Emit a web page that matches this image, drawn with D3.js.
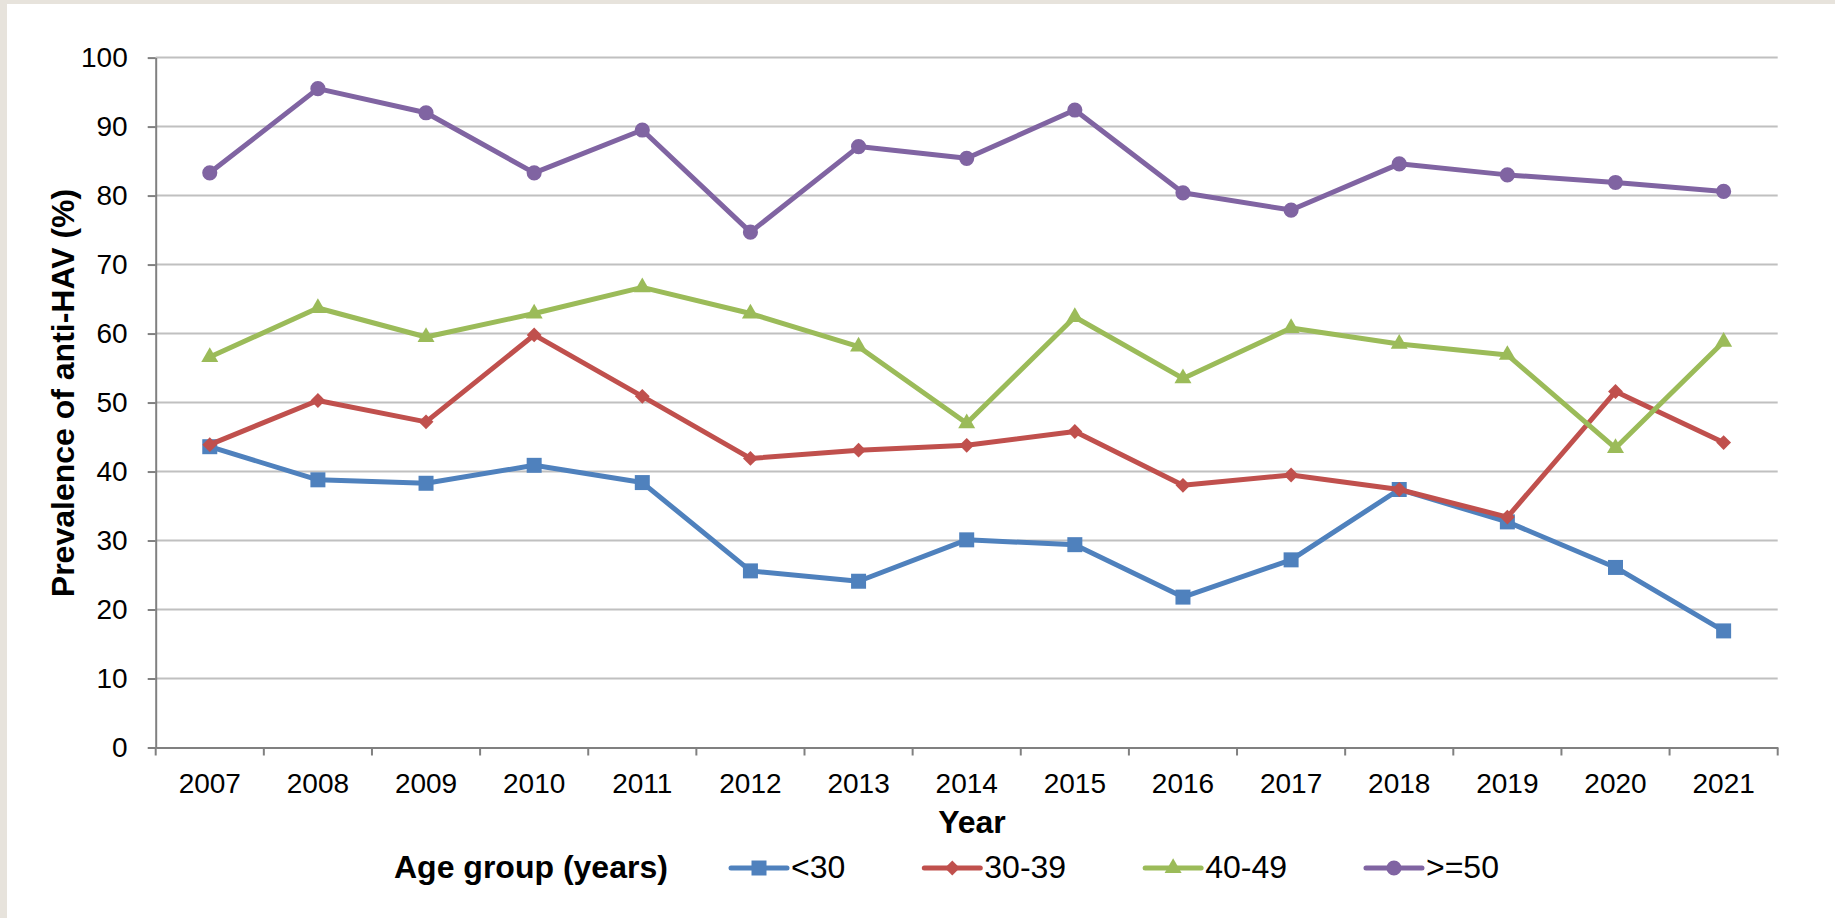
<!DOCTYPE html>
<html>
<head>
<meta charset="utf-8">
<script src="https://cdn.jsdelivr.net/npm/d3@7"></script>
<style>
  html, body { margin: 0; padding: 0; background: #ffffff; }
  svg { display: block; }
  text { font-family: "Liberation Sans", Arial, sans-serif; fill: #000; }
</style>
</head>
<body>
<svg id="chart" width="1835" height="918"></svg>
<script>
// ---- data ----
const years = ["2007","2008","2009","2010","2011","2012","2013","2014","2015","2016","2017","2018","2019","2020","2021"];
const under30 = [43.6, 38.8, 38.3, 40.9, 38.4, 25.6, 24.1, 30.1, 29.4, 21.8, 27.2, 37.4, 32.7, 26.1, 16.9];
const age30to39 = [43.9, 50.3, 47.2, 59.8, 50.9, 41.9, 43.1, 43.8, 45.8, 38.0, 39.5, 37.4, 33.4, 51.6, 44.2];
const age40to49 = [56.6, 63.7, 59.5, 62.9, 66.7, 62.9, 58.1, 47.0, 62.4, 53.5, 60.8, 58.5, 56.9, 43.4, 58.8];
const age50plus = [83.3, 95.5, 92.0, 83.3, 89.5, 74.7, 87.1, 85.4, 92.4, 80.4, 77.9, 84.6, 83.0, 81.9, 80.6];
const seriesNames = ["<30", "30-39", "40-49", ">=50"];
const yTicks = [0, 10, 20, 30, 40, 50, 60, 70, 80, 90, 100];
const yTitle = "Prevalence of anti-HAV (%)";
const xTitle = "Year";
const legendTitle = "Age group (years)";

// ---- styles ----
const colors = ["#4f81bd", "#c0504d", "#9bbb59", "#8064a2"];
const symbols = [
  {type: d3.symbolSquare, size: 225, rot: 0},
  {type: d3.symbolSquare, size: 110, rot: 45},
  {type: d3.symbolTriangle, size: 125, rot: 0},
  {type: d3.symbolCircle, size: 180, rot: 0}
];
const series = [under30, age30to39, age40to49, age50plus].map((vals, i) => ({
  name: seriesNames[i], values: vals, color: colors[i], sym: symbols[i]
}));

const svg = d3.select("#chart");

// frame
svg.append("rect").attr("x", 0).attr("y", 0).attr("width", 1835).attr("height", 918).attr("fill", "#e7e3dc");
svg.append("rect").attr("x", 7).attr("y", 4).attr("width", 1828).attr("height", 914).attr("fill", "#ffffff");

const plotLeft = 155.7, plotRight = 1777.7, plotTop = 57.6, plotBottom = 747.5;
const x = d3.scaleBand().domain(years).range([plotLeft, plotRight]);
const y = d3.scaleLinear().domain([0, 100]).range([plotBottom, plotTop]);

// gridlines
svg.append("g").selectAll("line").data(yTicks.filter(t => t > 0)).join("line")
  .attr("x1", plotLeft).attr("x2", plotRight)
  .attr("y1", d => y(d)).attr("y2", d => y(d))
  .attr("stroke", "#c0c0c0").attr("stroke-width", 2);

// y axis
const yAxis = svg.append("g").attr("transform", `translate(${plotLeft},0)`)
  .call(d3.axisLeft(y).tickValues(yTicks).tickSize(8).tickPadding(20).tickSizeOuter(0));
yAxis.select(".domain").attr("stroke", "#808080").attr("stroke-width", 2);
yAxis.selectAll(".tick line").attr("stroke", "#808080").attr("stroke-width", 2);
yAxis.selectAll(".tick text").attr("font-size", 28).attr("font-family", "Liberation Sans, Arial, sans-serif").attr("fill", "#000");

// x axis (labels at band centres)
const xAxis = svg.append("g").attr("transform", `translate(0,${plotBottom})`)
  .call(d3.axisBottom(x).tickSize(0).tickPadding(25.5).tickSizeOuter(0));
xAxis.select(".domain").attr("stroke", "#808080").attr("stroke-width", 2);
xAxis.selectAll(".tick text").attr("font-size", 28).attr("font-family", "Liberation Sans, Arial, sans-serif").attr("fill", "#000");
// boundary tick marks
const bounds = years.map(d => x(d)).concat([x(years[years.length - 1]) + x.bandwidth()]);
svg.append("g").selectAll("line").data(bounds).join("line")
  .attr("x1", d => d).attr("x2", d => d)
  .attr("y1", plotBottom).attr("y2", plotBottom + 8)
  .attr("stroke", "#808080").attr("stroke-width", 2);

// axis titles
svg.append("text").attr("transform", "translate(74,393) rotate(-90)")
  .attr("text-anchor", "middle").attr("font-size", 32).attr("font-weight", "bold").text(yTitle);
svg.append("text").attr("x", 972).attr("y", 833)
  .attr("text-anchor", "middle").attr("font-size", 32).attr("font-weight", "bold").text(xTitle);

// lines and markers
const cx = d => x(d) + x.bandwidth() / 2;
const lineGen = d3.line().x((v, i) => cx(years[i])).y(v => y(v));
series.forEach(s => {
  const g = svg.append("g");
  g.append("path").attr("d", lineGen(s.values)).attr("fill", "none")
    .attr("stroke", s.color).attr("stroke-width", 5).attr("stroke-linejoin", "round");
  g.selectAll("path.m").data(s.values).join("path").attr("class", "m")
    .attr("d", d3.symbol(s.sym.type, s.sym.size))
    .attr("transform", (v, i) => `translate(${cx(years[i])},${y(v)}) rotate(${s.sym.rot})`)
    .attr("fill", s.color);
});

// legend
const legY = 868;
svg.append("text").attr("x", 394).attr("y", 878).attr("font-size", 32).attr("font-weight", "bold").text(legendTitle);
let lx = 731;
series.forEach(s => {
  const g = svg.append("g");
  g.append("line").attr("x1", lx).attr("x2", lx + 56).attr("y1", legY).attr("y2", legY)
    .attr("stroke", s.color).attr("stroke-width", 5).attr("stroke-linecap", "round");
  g.append("path").attr("d", d3.symbol(s.sym.type, s.sym.size))
    .attr("transform", `translate(${lx + 28},${legY}) rotate(${s.sym.rot})`).attr("fill", s.color);
  const t = g.append("text").attr("x", lx + 60).attr("y", 878).attr("font-size", 32).text(s.name);
  lx = lx + 60 + t.node().getComputedTextLength() + 79;
});
</script>
</body>
</html>
